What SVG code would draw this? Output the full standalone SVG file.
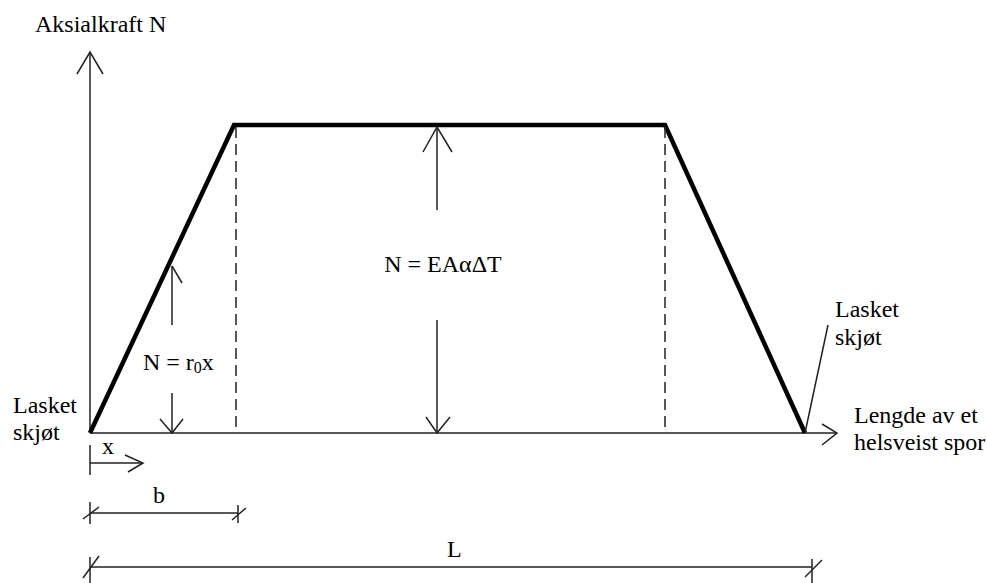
<svg xmlns="http://www.w3.org/2000/svg" width="987" height="583" viewBox="0 0 987 583">
<style>
text{font-family:"Liberation Serif","Times New Roman",serif;font-size:24px;fill:#000}
.thin{stroke:#222;stroke-width:1.5;fill:none}
.thick{stroke:#000;stroke-width:4.5;fill:none;stroke-linejoin:miter}
.dash{stroke:#222;stroke-width:1.5;stroke-dasharray:11,6;fill:none}
</style>
<rect width="987" height="583" fill="#fff"/>
<g id="axes">
<line class="thin" x1="90" y1="433" x2="90" y2="52"/>
<polyline class="thin" points="77,74 90,52 103,74"/>
<line class="thin" x1="90" y1="433" x2="837" y2="433"/>
<polyline class="thin" points="822,424 837,433 822,445"/>
<text x="35" y="32">Aksialkraft N</text>
<text x="854" y="423">Lengde av et</text>
<text x="854" y="450">helsveist spor</text>
</g>
<g id="curve">
<polyline class="thick" points="90,433 234,125 665,125 805,433"/>
</g>
<g id="connectors">
<line class="dash" x1="236" y1="127" x2="236" y2="433"/>
<line class="dash" x1="665" y1="127" x2="665" y2="433"/>
<line class="thin" x1="172" y1="266" x2="172" y2="325"/>
<line class="thin" x1="172" y1="266" x2="182" y2="283"/>
<line class="thin" x1="172" y1="393" x2="172" y2="433"/>
<polyline class="thin" points="160,419 172,433 183,419"/>
<line class="thin" x1="437" y1="127" x2="437" y2="210"/>
<polyline class="thin" points="423,152 437,127 452,152"/>
<line class="thin" x1="437" y1="320" x2="437" y2="433"/>
<polyline class="thin" points="426,417 437,433 450,417"/>
<line class="thin" x1="805" y1="433" x2="828" y2="325"/>
</g>
<g id="label-left">
<text x="13" y="413">Lasket</text>
<text x="13" y="440">skjøt</text>
</g>
<g id="label-right">
<text x="835" y="317">Lasket</text>
<text x="835" y="345">skjøt</text>
</g>
<g id="label-rx">
<text x="143" y="370">N = r<tspan font-size="16" dy="3">0</tspan><tspan dy="-3">x</tspan></text>
</g>
<g id="label-N">
<text x="443" y="272" text-anchor="middle">N = EAαΔT</text>
</g>
<g id="dim-x">
<line class="thin" x1="90" y1="445" x2="90" y2="475"/>
<line class="thin" x1="90" y1="463" x2="143" y2="463"/>
<polyline class="thin" points="125,455 143,463 128,472"/>
<text x="102" y="454">x</text>
</g>
<g id="dim-b">
<line class="thin" x1="90" y1="513" x2="238" y2="513"/>
<line class="thin" x1="90" y1="502" x2="90" y2="524"/>
<line class="thin" x1="83" y1="519" x2="99" y2="507"/>
<line class="thin" x1="238" y1="505" x2="238" y2="523"/>
<line class="thin" x1="232" y1="520" x2="246" y2="508"/>
<text x="153" y="503">b</text>
</g>
<g id="dim-L">
<line class="thin" x1="90" y1="567" x2="812" y2="567"/>
<line class="thin" x1="90" y1="557" x2="90" y2="583"/>
<line class="thin" x1="83" y1="578" x2="99" y2="556"/>
<line class="thin" x1="812" y1="559" x2="812" y2="583"/>
<line class="thin" x1="805" y1="577" x2="822" y2="560"/>
<text x="447" y="557">L</text>
</g>
</svg>
